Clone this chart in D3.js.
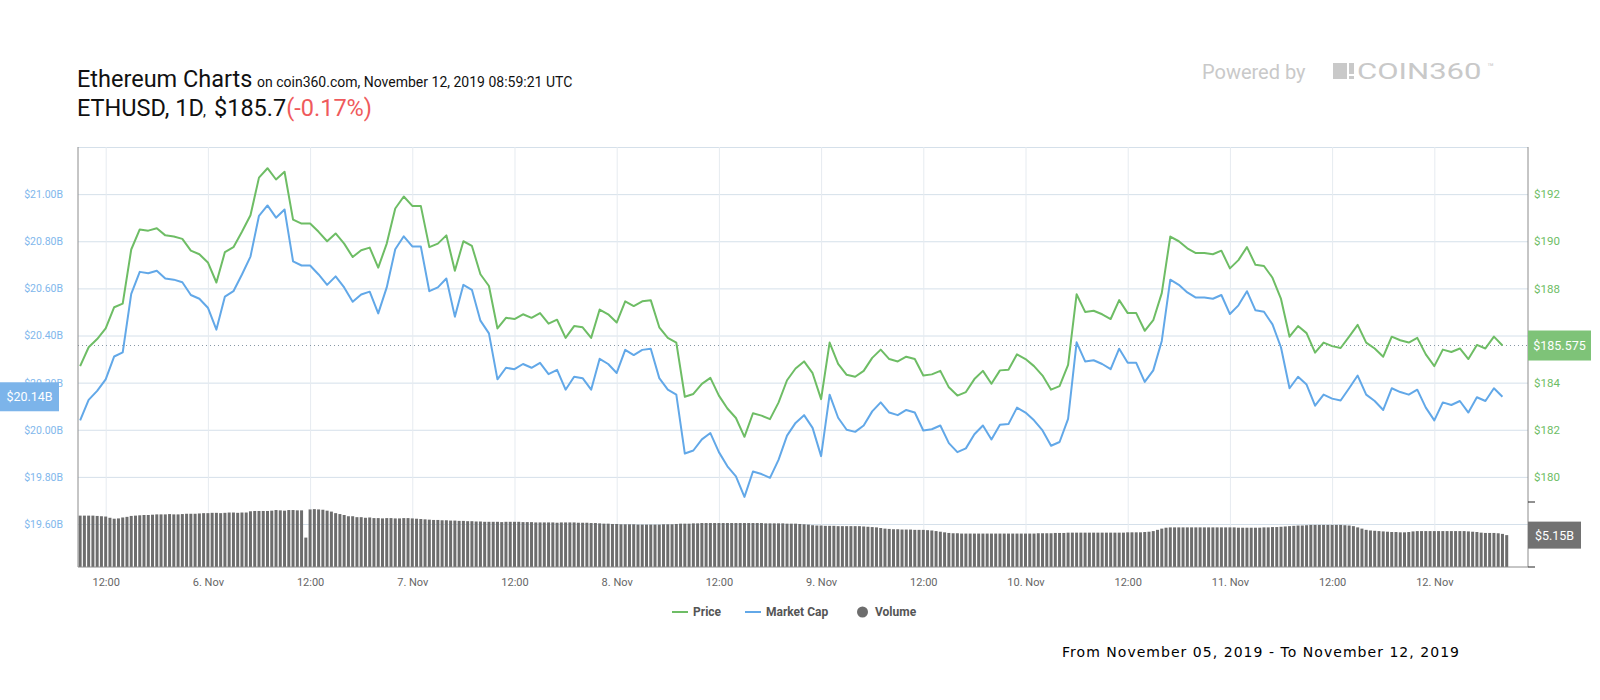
<!DOCTYPE html>
<html>
<head>
<meta charset="utf-8">
<script src="https://cdn.jsdelivr.net/npm/d3@7"></script>
<style>
  body { margin: 0; background: #fff; }
  svg { display: block; font-family: Roboto, "Noto Sans", sans-serif; }
</style>
</head>
<body>
<svg id="chart" width="1600" height="700"></svg>
<script>
// Hourly price / market cap, half-hourly 24h volume, from Nov 5 2019 09:00 UTC
const startTime = Date.UTC(2019, 10, 5, 9, 0);

const priceValues = [
  184.7, 185.5, 185.85, 186.3, 187.2, 187.35, 189.65, 190.5, 190.45, 190.55, 190.25, 190.2,
  190.1, 189.6, 189.45, 189.1, 188.25, 189.54, 189.75, 190.4, 191.1, 192.7, 193.1, 192.62,
  192.95, 190.92, 190.75, 190.75, 190.4, 190.0, 190.33, 189.9, 189.33, 189.62, 189.73, 188.88,
  189.9, 191.39, 191.9, 191.5, 191.5, 189.75, 189.9, 190.25, 188.75, 190.0, 189.8, 188.6,
  188.1, 186.3, 186.75, 186.7, 186.9, 186.75, 186.95, 186.5, 186.67, 185.9, 186.4, 186.35,
  185.9, 187.1, 186.9, 186.55, 187.45, 187.25, 187.45, 187.5, 186.35, 185.9, 185.7, 183.4,
  183.52, 183.95, 184.2, 183.45, 182.9, 182.5, 181.7, 182.7, 182.6, 182.45, 183.15, 184.1,
  184.6, 184.9, 184.4, 183.3, 185.7, 184.8, 184.33, 184.25, 184.5, 185.05, 185.4, 185.0,
  184.9, 185.1, 185.0, 184.3, 184.35, 184.5, 183.8, 183.45, 183.6, 184.15, 184.5, 183.95,
  184.52, 184.55, 185.2, 185.0, 184.7, 184.3, 183.7, 183.85, 184.75, 187.75, 187.0, 187.05,
  186.9, 186.7, 187.5, 186.95, 186.95, 186.2, 186.65, 187.8, 190.2, 190.0, 189.7, 189.5,
  189.5, 189.45, 189.6, 188.85, 189.2, 189.75, 189.0, 188.95, 188.45, 187.55, 185.95, 186.4,
  186.1, 185.27, 185.7, 185.55, 185.47, 185.95, 186.45, 185.7, 185.45, 185.1, 185.95, 185.8,
  185.7, 185.9, 185.2, 184.7, 185.4, 185.3, 185.45, 185.0, 185.6, 185.45, 185.95, 185.575
];

// billions of USD
const marketCapValues = [
  20.040, 20.127, 20.165, 20.214, 20.311, 20.328, 20.577, 20.670, 20.664, 20.675, 20.642, 20.637,
  20.626, 20.572, 20.556, 20.518, 20.425, 20.565, 20.588, 20.659, 20.735, 20.908, 20.952, 20.900,
  20.935, 20.715, 20.697, 20.697, 20.659, 20.615, 20.651, 20.604, 20.543, 20.574, 20.586, 20.494,
  20.604, 20.766, 20.821, 20.778, 20.778, 20.588, 20.604, 20.642, 20.480, 20.615, 20.594, 20.463,
  20.409, 20.214, 20.263, 20.257, 20.279, 20.263, 20.284, 20.236, 20.254, 20.170, 20.225, 20.219,
  20.170, 20.301, 20.279, 20.241, 20.339, 20.317, 20.339, 20.344, 20.219, 20.170, 20.149, 19.899,
  19.912, 19.959, 19.986, 19.905, 19.845, 19.802, 19.715, 19.823, 19.812, 19.796, 19.872, 19.975,
  20.029, 20.062, 20.008, 19.888, 20.149, 20.051, 20.000, 19.991, 20.018, 20.078, 20.116, 20.073,
  20.062, 20.084, 20.073, 19.997, 20.002, 20.018, 19.943, 19.905, 19.921, 19.981, 20.018, 19.959,
  20.021, 20.024, 20.094, 20.073, 20.040, 19.997, 19.932, 19.948, 20.046, 20.371, 20.290, 20.295,
  20.279, 20.257, 20.344, 20.284, 20.284, 20.203, 20.252, 20.377, 20.637, 20.615, 20.583, 20.561,
  20.561, 20.556, 20.572, 20.491, 20.528, 20.588, 20.507, 20.501, 20.447, 20.349, 20.176, 20.225,
  20.192, 20.102, 20.149, 20.132, 20.124, 20.176, 20.230, 20.149, 20.122, 20.084, 20.176, 20.160,
  20.149, 20.170, 20.094, 20.040, 20.116, 20.105, 20.122, 20.073, 20.138, 20.122, 20.176, 20.140
];

// billions of USD, every 30 minutes
const volumeValues = [
  8.3, 8.3, 8.3, 8.3, 8.25, 8.2, 8.15, 7.95, 7.8, 7.85, 8.0, 8.1,
  8.25, 8.3, 8.35, 8.4, 8.4, 8.45, 8.5, 8.5, 8.5, 8.55, 8.5, 8.5,
  8.55, 8.6, 8.6, 8.6, 8.65, 8.7, 8.7, 8.75, 8.75, 8.7, 8.75, 8.8,
  8.8, 8.75, 8.8, 8.8, 9.0, 9.05, 9.05, 9.05, 9.05, 9.1, 9.2, 9.15,
  9.1, 9.2, 9.2, 9.15, 9.15, 4.75, 9.3, 9.35, 9.3, 9.25, 9.1, 8.95,
  8.7, 8.55, 8.4, 8.2, 8.2, 8.05, 8.05, 7.95, 8.0, 7.9, 7.9, 7.85,
  7.9, 7.9, 7.85, 7.85, 7.9, 7.9, 7.85, 7.8, 7.75, 7.7, 7.65, 7.6,
  7.6, 7.55, 7.55, 7.5, 7.5, 7.45, 7.45, 7.4, 7.4, 7.35, 7.35, 7.3,
  7.3, 7.3, 7.3, 7.25, 7.3, 7.3, 7.3, 7.3, 7.25, 7.25, 7.25, 7.2,
  7.2, 7.2, 7.2, 7.2, 7.15, 7.2, 7.2, 7.2, 7.2, 7.15, 7.15, 7.15,
  7.1, 7.1, 7.05, 7.0, 7.0, 6.95, 6.95, 6.9, 6.9, 6.9, 6.9, 6.85,
  6.85, 6.85, 6.85, 6.85, 6.85, 6.9, 6.9, 6.9, 6.95, 7.0, 7.0, 7.0,
  7.05, 7.05, 7.1, 7.1, 7.1, 7.1, 7.1, 7.1, 7.1, 7.1, 7.1, 7.1,
  7.1, 7.1, 7.1, 7.1, 7.1, 7.05, 7.05, 7.05, 7.05, 7.05, 7.0, 7.0,
  7.0, 6.95, 6.9, 6.85, 6.75, 6.7, 6.7, 6.65, 6.65, 6.65, 6.6, 6.6,
  6.6, 6.6, 6.6, 6.6, 6.55, 6.5, 6.45, 6.4, 6.3, 6.2, 6.15, 6.1,
  6.1, 6.05, 6.05, 6.05, 6.0, 6.0, 6.0, 5.95, 5.9, 5.8, 5.7, 5.6,
  5.5, 5.45, 5.45, 5.4, 5.4, 5.4, 5.4, 5.4, 5.4, 5.4, 5.4, 5.4,
  5.4, 5.4, 5.4, 5.4, 5.4, 5.4, 5.4, 5.4, 5.4, 5.45, 5.45, 5.45,
  5.45, 5.5, 5.5, 5.5, 5.55, 5.55, 5.55, 5.55, 5.55, 5.55, 5.55, 5.55,
  5.55, 5.55, 5.55, 5.55, 5.55, 5.55, 5.6, 5.6, 5.6, 5.6, 5.65, 5.7,
  5.8, 6.0, 6.2, 6.35, 6.4, 6.4, 6.4, 6.4, 6.4, 6.4, 6.4, 6.4,
  6.4, 6.4, 6.4, 6.4, 6.4, 6.4, 6.4, 6.4, 6.35, 6.35, 6.35, 6.35,
  6.35, 6.35, 6.4, 6.4, 6.45, 6.45, 6.5, 6.55, 6.6, 6.65, 6.7, 6.7,
  6.75, 6.8, 6.8, 6.8, 6.8, 6.8, 6.8, 6.8, 6.8, 6.75, 6.7, 6.6,
  6.4, 6.2, 6.0, 5.9, 5.85, 5.8, 5.75, 5.7, 5.65, 5.65, 5.6, 5.6,
  5.65, 5.75, 5.8, 5.8, 5.8, 5.8, 5.8, 5.8, 5.8, 5.8, 5.8, 5.8,
  5.8, 5.8, 5.75, 5.7, 5.65, 5.55, 5.5, 5.5, 5.5, 5.45, 5.35, 5.15
];

const capTicks = [19.6, 19.8, 20.0, 20.2, 20.4, 20.6, 20.8, 21.0, 21.2];
const priceTicks = [180, 182, 184, 186, 188, 190, 192, 194];
// $186 sits under the current-price flag, $194 is the unlabeled top line
const priceLabelTicks = [180, 182, 184, 188, 190, 192];
const legendItems = ['Price', 'Market Cap', 'Volume'];

const colors = { price: '#6ebd65', cap: '#62a8e8', volume: '#6d6d6d' };

const svg = d3.select('#chart');
const plotLeft = 78, plotRight = 1528, plotTop = 147, paneBottom = 524, plotBottom = 567, volTop = 502;

// Scales
const x = d3.scaleUtc()
  .domain([new Date(Date.UTC(2019, 10, 5, 8, 45)), new Date(Date.UTC(2019, 10, 12, 11, 0))])
  .range([plotLeft, plotRight]);
const yCap = d3.scaleLinear().domain([19.6, 21.2]).range([paneBottom, plotTop]);
const yPrice = d3.scaleLinear().domain([178, 194]).range([paneBottom, plotTop]);
const yVol = d3.scaleLinear().domain([0, 10.5]).range([plotBottom, volTop]);

const hourTimes = priceValues.map((_, i) => d3.utcHour.offset(new Date(startTime), i));
const halfHourTimes = volumeValues.map((_, i) => d3.utcMinute.offset(new Date(startTime), 30 * i));

// Horizontal grid
svg.append('g')
  .attr('transform', `translate(${plotLeft},0)`)
  .call(d3.axisLeft(yCap).tickValues(capTicks).tickSize(-(plotRight - plotLeft)).tickFormat(''))
  .call(g => g.select('.domain').remove())
  .call(g => g.selectAll('line').attr('stroke', '#d5e0ea'));

// Vertical grid
const every12h = d3.utcHour.every(12);
svg.append('g')
  .attr('transform', `translate(0,${plotBottom})`)
  .call(d3.axisBottom(x).ticks(every12h).tickSize(-(plotBottom - plotTop)).tickFormat(''))
  .call(g => g.select('.domain').remove())
  .call(g => g.selectAll('line').attr('stroke', '#e6ebf0'));

// Volume bars
svg.append('g').selectAll('rect')
  .data(volumeValues)
  .join('rect')
  .attr('x', (d, i) => x(halfHourTimes[i]) - 1.5)
  .attr('width', 3)
  .attr('y', d => yVol(d))
  .attr('height', d => plotBottom - yVol(d))
  .attr('fill', colors.volume);

// Current price dotted line
const lastPrice = priceValues[priceValues.length - 1];
const lastCap = marketCapValues[marketCapValues.length - 1];
const lastVol = volumeValues[volumeValues.length - 1];
svg.append('line')
  .attr('x1', plotLeft).attr('x2', plotRight)
  .attr('y1', yPrice(lastPrice)).attr('y2', yPrice(lastPrice))
  .attr('stroke', '#8797a5').attr('stroke-dasharray', '1,3');

// Lines
const priceLine = d3.line().x((d, i) => x(hourTimes[i])).y(d => yPrice(d));
const capLine = d3.line().x((d, i) => x(hourTimes[i])).y(d => yCap(d));

svg.append('path').datum(marketCapValues)
  .attr('d', capLine).attr('fill', 'none')
  .attr('stroke', colors.cap).attr('stroke-width', 2).attr('stroke-linejoin', 'round');
svg.append('path').datum(priceValues)
  .attr('d', priceLine).attr('fill', 'none')
  .attr('stroke', colors.price).attr('stroke-width', 2).attr('stroke-linejoin', 'round');

// Axis lines
const axisColor = '#8c8c8c';
svg.append('line').attr('x1', plotLeft).attr('x2', plotLeft).attr('y1', plotTop).attr('y2', plotBottom).attr('stroke', axisColor);
svg.append('line').attr('x1', plotRight).attr('x2', plotRight).attr('y1', plotTop).attr('y2', plotBottom).attr('stroke', axisColor);
svg.append('line').attr('x1', plotLeft).attr('x2', plotRight).attr('y1', plotBottom).attr('y2', plotBottom).attr('stroke', axisColor);

// Volume axis ticks
svg.append('g').selectAll('line')
  .data([0, 10.5])
  .join('line')
  .attr('x1', plotRight).attr('x2', plotRight + 7)
  .attr('y1', d => yVol(d)).attr('y2', d => yVol(d))
  .attr('stroke', '#222');

// Left axis labels (market cap)
svg.append('g')
  .attr('transform', `translate(${plotLeft},0)`)
  .call(d3.axisLeft(yCap).tickValues(capTicks.slice(0, -1)).tickSize(0).tickPadding(15)
    .tickFormat(d => '$' + d.toFixed(2) + 'B'))
  .call(g => g.select('.domain').remove())
  .call(g => g.selectAll('text').attr('fill', '#7fb7ec').attr('font-size', 10.5).attr('font-family', 'Roboto'));

// Right axis labels (price)
svg.append('g')
  .attr('transform', `translate(${plotRight},0)`)
  .call(d3.axisRight(yPrice).tickValues(priceLabelTicks).tickSize(0).tickPadding(6)
    .tickFormat(d => '$' + d))
  .call(g => g.select('.domain').remove())
  .call(g => g.selectAll('text').attr('fill', '#6ebd65').attr('font-size', 11.5).attr('font-family', 'Roboto'));

// Bottom axis labels
const fmtDay = d3.utcFormat('%-d. %b');
const fmtHour = d3.utcFormat('%H:%M');
svg.append('g')
  .attr('transform', `translate(0,${plotBottom})`)
  .call(d3.axisBottom(x).ticks(every12h).tickSize(0).tickPadding(11)
    .tickFormat(d => d.getUTCHours() === 0 ? fmtDay(d) : fmtHour(d)))
  .call(g => g.select('.domain').remove())
  .call(g => g.selectAll('text').attr('fill', '#666').attr('font-size', 11).attr('font-family', 'Roboto'));

// Current value flags
function flag(xPos, yCenter, w, h, fill, label) {
  svg.append('rect').attr('x', xPos).attr('y', yCenter - h / 2).attr('width', w).attr('height', h).attr('fill', fill);
  svg.append('text').attr('x', xPos + w / 2).attr('y', yCenter)
    .attr('text-anchor', 'middle').attr('dominant-baseline', 'central')
    .attr('fill', '#fff').attr('font-size', 12.5).text(label);
}
flag(plotRight, yPrice(lastPrice), 63, 30, '#7ec378', '$' + lastPrice);
flag(0, yCap(lastCap), 59, 29, '#7cb4ea', '$' + lastCap.toFixed(2) + 'B');
flag(plotRight, yVol(lastVol), 53, 27, '#727272', '$' + lastVol.toFixed(2) + 'B');

// Title
svg.append('text').attr('x', 77).attr('y', 87).attr('fill', '#111').attr('font-size', 23.5)
  .text('Ethereum Charts');
svg.append('text').attr('x', 257).attr('y', 87).attr('fill', '#111').attr('font-size', 14)
  .text('on coin360.com, November 12, 2019 08:59:21 UTC');

const sub = svg.append('g').attr('fill', '#111').attr('font-size', 23.5);
sub.append('text').attr('x', 77).attr('y', 116).text('ETHUSD, 1D');
sub.append('text').attr('x', 203).attr('y', 116).attr('font-size', 15).text(',');
const priceText = sub.append('text').attr('x', 214).attr('y', 116);
priceText.append('tspan').text('$185.7');
priceText.append('tspan').attr('fill', '#ef5a5c').text('(-0.17%)');

// Powered by COIN360
const logoGray = '#c9c9c9';
svg.append('text').attr('x', 1202).attr('y', 79).attr('fill', logoGray).attr('font-size', 20).text('Powered by');
svg.append('rect').attr('x', 1333).attr('y', 63).attr('width', 14).attr('height', 16).attr('fill', logoGray);
svg.append('rect').attr('x', 1349).attr('y', 63).attr('width', 5).attr('height', 11).attr('fill', logoGray);
svg.append('rect').attr('x', 1349).attr('y', 76).attr('width', 5).attr('height', 3).attr('fill', logoGray);
svg.append('text').attr('transform', 'translate(1357,79) scale(1.38,1)')
  .attr('fill', logoGray).attr('font-size', 22.5).text('COIN360');
svg.append('text').attr('x', 1487).attr('y', 71).attr('fill', logoGray).attr('font-size', 11).text('™');

// Legend
const legendX = [672, 745, 857];
const legend = svg.append('g').attr('font-size', 12).attr('font-weight', 'bold').attr('fill', '#555');
legendItems.forEach((name, i) => {
  const lx = legendX[i];
  if (i < 2) {
    legend.append('line').attr('x1', lx).attr('x2', lx + 16).attr('y1', 612).attr('y2', 612)
      .attr('stroke', i === 0 ? colors.price : colors.cap).attr('stroke-width', 2);
    legend.append('text').attr('x', lx + 21).attr('y', 612).attr('dominant-baseline', 'central').text(name);
  } else {
    legend.append('circle').attr('cx', lx + 5.5).attr('cy', 612).attr('r', 5.5).attr('fill', colors.volume);
    legend.append('text').attr('x', lx + 18).attr('y', 612).attr('dominant-baseline', 'central').text(name);
  }
});

// Date range note
svg.append('text').attr('x', 1062).attr('y', 657)
  .attr('font-family', 'DejaVu Sans').attr('font-size', 14).attr('fill', '#000')
  .attr('textLength', 397).attr('lengthAdjust', 'spacing')
  .text('From November 05, 2019 - To November 12, 2019');
</script>
</body>
</html>
